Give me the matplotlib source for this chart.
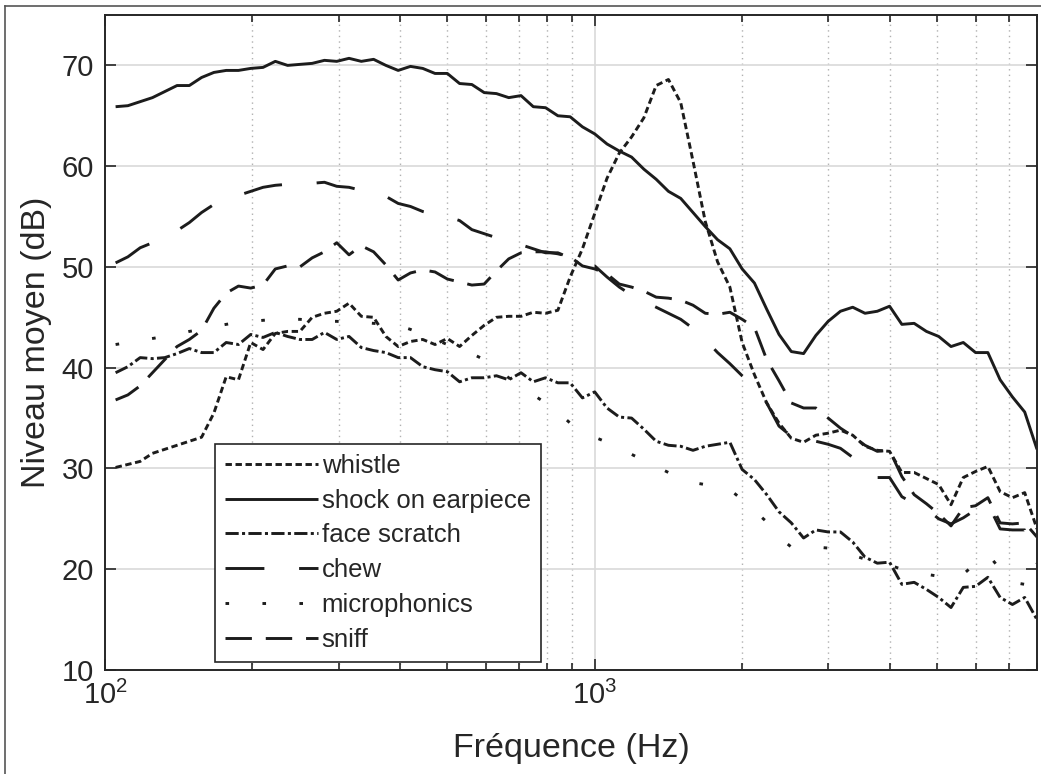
import numpy as np
import matplotlib.pyplot as plt
from matplotlib.lines import Line2D

# 1/12-octave band centres, 105 Hz ... 8 kHz
band_index = np.arange(-39, 37)
freq = 1000.0 * 2.0 ** (band_index / 12.0)

whistle = [30.1, 30.4, 30.7, 31.5, 31.9, 32.3, 32.7, 33.1, 35.5, 39.1, 38.8, 42.5, 41.8, 43.4,
           43.6, 43.6, 45.0, 45.4, 45.6, 46.4, 45.1, 45.0, 43.1, 42.1, 42.6, 42.8, 42.3,
           42.9, 42.1, 43.2, 44.2, 45.0, 45.1, 45.1, 45.5, 45.4, 45.7, 49.0, 51.8, 55.3,
           58.8, 61.3, 62.9, 64.8, 68.0, 68.6, 66.3, 60.5, 54.5, 50.5, 48.0, 42.5,
           39.3, 36.5, 34.5, 33.0, 32.6, 33.3, 33.5, 33.8, 33.3, 32.2, 31.8, 31.7, 29.6, 29.6,
           29.0, 28.4, 26.4, 29.1, 29.7, 30.2, 27.7, 27.1, 27.6, 24.0]

shock = [65.9, 66.0, 66.4, 66.8, 67.4, 68.0, 68.0, 68.8, 69.3, 69.5, 69.5, 69.7, 69.8, 70.4,
         70.0, 70.1, 70.2, 70.5, 70.4, 70.7, 70.4, 70.6, 70.0, 69.5, 69.9, 69.7, 69.2, 69.2,
         68.2, 68.1, 67.3, 67.2, 66.8, 67.0, 65.9, 65.8, 65.0, 64.9, 63.9, 63.2,
         62.2, 61.5, 60.9, 59.7, 58.7, 57.5, 56.8, 55.4, 54.0, 52.7, 51.8, 49.8, 48.4,
         45.8, 43.3, 41.6, 41.4, 43.2, 44.6, 45.6, 46.0, 45.4, 45.6, 46.1, 44.3, 44.4, 43.6,
         43.1, 42.1, 42.5, 41.5, 41.5, 38.8, 37.1, 35.6, 31.9]

face_scratch = [39.5, 40.1, 41.0, 40.9, 41.0, 41.4, 41.9, 41.5, 41.5, 42.5, 42.3, 43.3, 43.0,
                43.5, 43.1, 42.8, 42.8, 43.5, 42.8, 43.1, 42.0, 41.7, 41.5, 41.0,
                41.0, 40.1, 39.8, 39.6, 38.6, 39.0, 39.0, 39.2, 38.8, 39.5, 38.6, 39.0, 38.5,
                38.5, 37.0, 37.6, 36.0, 35.1, 35.0, 33.9, 32.7, 32.3, 32.2,
                31.8, 32.2, 32.4, 32.6, 29.9, 28.9, 27.4, 25.7, 24.6, 23.1, 23.9, 23.7, 23.7,
                22.7, 21.2, 20.6, 20.7, 18.5, 18.7, 18.0, 17.2, 16.2, 18.2, 18.3, 19.2, 17.2,
                16.5, 17.2, 15.0]

chew = [50.4, 51.0, 51.9, 52.4, 53.0, 53.6, 54.4, 55.4, 56.2, 56.7, 57.1, 57.5, 57.9, 58.1,
        58.2, 58.3, 58.3, 58.4, 58.0, 57.9, 57.6, 57.5, 57.0, 56.3, 56.0, 55.5, 55.2, 55.0,
        54.6, 53.7, 53.3, 52.9, 52.5, 52.2, 51.8, 51.4, 51.4, 50.9, 50.1,
        50.1, 49.0, 48.0, 47.2, 46.6, 46.0, 45.4, 44.8, 43.9, 42.8, 41.5, 40.4, 39.2,
        38.3, 36.5, 34.2, 33.2, 32.2, 32.7, 32.4, 32.0, 31.1, 29.6, 29.1, 29.1, 27.2,
        26.5, 26.0, 25.0, 24.5, 25.1, 25.9, 26.5, 24.0, 23.9, 23.9, 20.6]

microphonics = [42.3, 42.5, 42.7, 42.9, 43.1, 43.3, 43.6, 43.8, 44.1, 44.3, 44.5, 44.6, 44.7,
                44.8, 44.8, 44.8, 44.7, 44.6, 44.6, 44.5, 44.5, 44.4, 44.3, 44.2,
                43.8, 43.3, 42.8, 42.3, 41.8, 41.4, 40.8, 39.9, 39.0, 38.1, 37.3, 36.5, 35.6,
                34.5, 33.6, 33.1, 32.6, 32.0, 31.4, 30.8, 30.2, 29.6, 29.0,
                28.6, 28.4, 28.2, 27.9, 26.9, 25.8, 24.7, 23.2, 22.2, 22.2, 22.2, 22.1, 21.8,
                21.4, 21.0, 20.7, 20.4, 20.0, 19.7, 19.5, 19.3, 19.1, 19.5, 20.6, 21.5, 20.0,
                18.7, 18.5, 18.0]

sniff = [36.8, 37.3, 38.2, 39.5, 40.8, 42.1, 42.8, 43.7, 45.9, 47.4, 48.1, 47.9, 48.2, 49.8,
         50.1, 50.0, 50.9, 51.5, 52.4, 51.2, 52.1, 51.5, 50.2, 48.7, 49.4, 49.7, 49.5, 48.8,
         48.5, 48.2, 48.3, 49.6, 50.8, 51.4, 51.5, 51.5, 51.3, 51.0, 50.1,
         49.8, 49.3, 48.3, 48.0, 47.6, 47.0, 46.9, 46.7, 46.2, 45.4, 45.3, 45.5, 44.8,
         44.0, 40.8, 38.7, 36.5, 36.0, 36.0, 35.0, 34.0, 33.2, 32.3, 31.7, 31.8, 29.2,
         27.4, 26.5, 25.5, 24.3, 26.1, 26.3, 27.1, 24.6, 24.5, 24.6, 23.2]

labels = ['whistle', 'shock on earpiece', 'face scratch', 'chew', 'microphonics', 'sniff']

plt.rcParams['font.family'] = ['Liberation Sans', 'DejaVu Sans']
plt.rcParams['lines.scale_dashes'] = False

ink = '#1c1c1c'
axis_col = '#262626'

fig = plt.figure(figsize=(10.41, 7.74), dpi=100)
ax = fig.add_axes([105 / 1041, 1 - 670 / 774, 932 / 1041, 655 / 774])

lw = 2.1
styles = [
    dict(dashes=(4.6, 2.6)),                       # whistle
    dict(linestyle='-'),                           # shock
    dict(dashes=(9.5, 2.4, 2.2, 2.4)),             # face scratch
    dict(dashes=(28, 25)),                         # chew
    dict(dashes=(2.6, 24)),                        # microphonics
    dict(dashes=(19, 10)),                         # sniff
]
series = [whistle, shock, face_scratch, chew, microphonics, sniff]
for vals, lab, st in zip(series, labels, styles):
    ax.plot(freq, vals, color=ink, lw=lw, label=lab, solid_capstyle='butt',
            dash_capstyle='butt', **st)

ax.set_xscale('log')
ax.set_xlim(100, 8000)
ax.set_ylim(10, 75)
ax.set_yticks([10, 20, 30, 40, 50, 60, 70])

ax.grid(True, which='major', color='#d9d9d9', lw=1.2, ls='-')
ax.grid(True, which='minor', axis='x', color='#b0b0b0', lw=1.0, ls=(0, (1, 3)))
ax.set_axisbelow(True)

ax.tick_params(which='both', direction='in', top=True, right=True,
               colors=axis_col, labelcolor=axis_col, labelsize=21, width=1.2)
ax.tick_params(which='major', length=8, pad=8)
ax.tick_params(which='minor', length=5)
for sp in ax.spines.values():
    sp.set_color(axis_col)
    sp.set_linewidth(1.4)

ax.set_xlabel('Fréquence (Hz)', fontsize=24.5, color=axis_col, labelpad=16)
ax.set_ylabel('Niveau moyen (dB)', fontsize=24.5, color=axis_col, labelpad=7)

leg = ax.legend(loc='lower left', bbox_to_anchor=(0.118, 0.012), borderaxespad=0,
                fontsize=18.5, handlelength=3.6, handletextpad=0.15, labelspacing=0.42,
                fancybox=False, framealpha=1, edgecolor=axis_col, borderpad=0.4)
leg.get_frame().set_linewidth(1.2)
for t in leg.get_texts():
    t.set_color(axis_col)

# outer frame of the exported figure
fig.add_artist(Line2D([5 / 1041, 1], [1 - 6 / 774, 1 - 6 / 774], color='#555555', lw=1.2))
fig.add_artist(Line2D([5 / 1041, 5 / 1041], [0, 1 - 6 / 774], color='#555555', lw=1.2))

fig.savefig('out.png', dpi=100)
